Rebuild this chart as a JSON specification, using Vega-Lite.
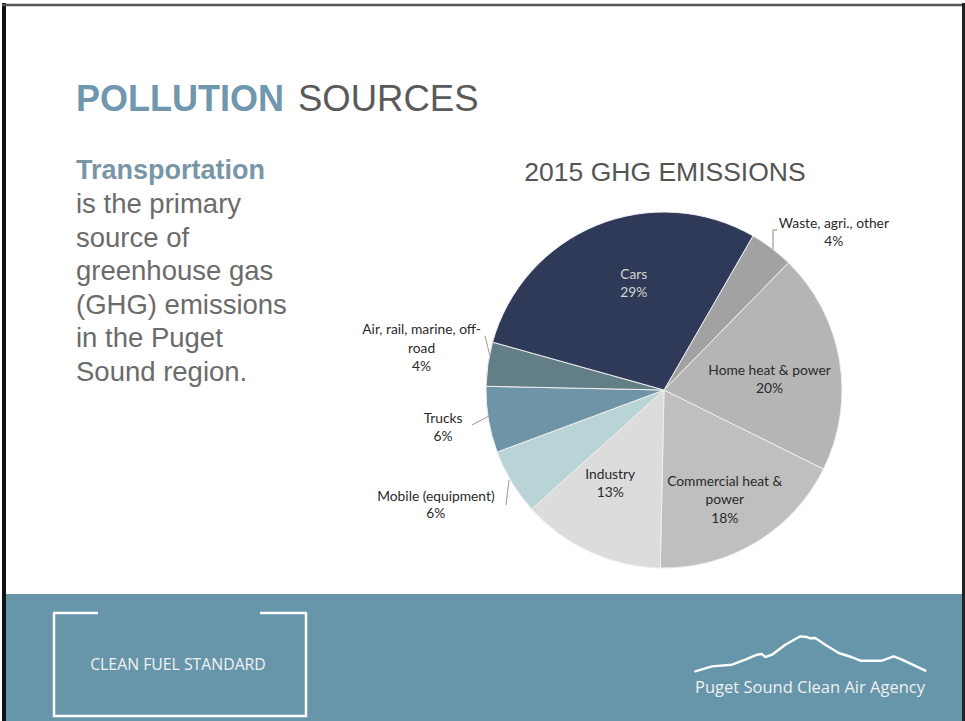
{
  "$schema": "https://vega.github.io/schema/vega-lite/v6.json",
  "width": 965,
  "height": 721,
  "autosize": {"type": "fit", "contains": "padding"},
  "padding": 0,
  "background": "white",
  "config": {"view": {"stroke": null}},
  "datasets": {
    "ghg": [
      {"name": "Waste, agri., other", "label": "Waste, agri., other\n4%", "value": 4, "order": 1},
      {"name": "Home heat & power", "label": "Home heat & power\n20%", "value": 20, "order": 2},
      {"name": "Commercial heat & power", "label": "Commercial heat &\npower\n18%", "value": 18, "order": 3},
      {"name": "Industry", "label": "Industry\n13%", "value": 13, "order": 4},
      {"name": "Mobile (equipment)", "label": "Mobile (equipment)\n6%", "value": 6, "order": 5},
      {"name": "Trucks", "label": "Trucks\n6%", "value": 6, "order": 6},
      {"name": "Air, rail, marine, off-road", "label": "Air, rail, marine, off-\nroad\n4%", "value": 4, "order": 7},
      {"name": "Cars", "label": "Cars\n29%", "value": 29, "order": 8}
    ]
  },
  "data": {"name": "ghg"},
  "layer": [
    {
      "data": {"values": [{}]},
      "mark": {"type": "rect", "color": "#6796ab"},
      "encoding": {"x": {"value": 0}, "x2": {"value": 965}, "y": {"value": 591}, "y2": {"value": 721}}
    },
    {
      "data": {"values": [{}]},
      "mark": {"type": "rule", "color": "#111111", "strokeWidth": 4},
      "encoding": {"x": {"value": 2}, "y": {"value": 0}, "y2": {"value": 721}}
    },
    {
      "data": {"values": [{}]},
      "mark": {"type": "rule", "color": "#555555", "strokeWidth": 2.5},
      "encoding": {"x": {"value": 0}, "x2": {"value": 965}, "y": {"value": 2}}
    },
    {
      "data": {"values": [{}]},
      "mark": {"type": "rule", "color": "#222222", "strokeWidth": 5},
      "encoding": {"x": {"value": 962.5}, "y": {"value": 0}, "y2": {"value": 721}}
    },
    {
      "data": {"values": [{}]},
      "mark": {"type": "text", "text": "POLLUTION", "font": "Liberation Sans", "fontSize": 36, "fontWeight": "bold", "color": "#6f97ae", "align": "left", "baseline": "alphabetic"},
      "encoding": {"x": {"value": 74}, "y": {"value": 108}}
    },
    {
      "data": {"values": [{}]},
      "mark": {"type": "text", "text": "SOURCES", "font": "Liberation Sans", "fontSize": 36.5, "color": "#5a5a5a", "align": "left", "baseline": "alphabetic"},
      "encoding": {"x": {"value": 296}, "y": {"value": 108}}
    },
    {
      "data": {"values": [{}]},
      "mark": {"type": "text", "text": "Transportation", "font": "Liberation Sans", "fontSize": 27, "fontWeight": "bold", "color": "#7896a8", "align": "left", "baseline": "alphabetic"},
      "encoding": {"x": {"value": 74}, "y": {"value": 176}}
    },
    {
      "data": {"values": [{}]},
      "mark": {"type": "text", "text": "is the primary\nsource of\ngreenhouse gas\n(GHG) emissions\nin the Puget\nSound region.", "lineBreak": "\n", "lineHeight": 33.6, "font": "Liberation Sans", "fontSize": 27.5, "color": "#6b6b6b", "align": "left", "baseline": "alphabetic"},
      "encoding": {"x": {"value": 74}, "y": {"value": 210}}
    },
    {
      "data": {"values": [{}]},
      "mark": {"type": "text", "text": "2015 GHG EMISSIONS", "font": "Liberation Sans", "fontSize": 26.5, "color": "#555555", "align": "center", "baseline": "alphabetic"},
      "encoding": {"x": {"value": 663}, "y": {"value": 178}}
    },
    {
      "layer": [
        {
          "mark": {"type": "arc", "outerRadius": 178, "stroke": "#eeeeee", "strokeWidth": 1},
          "encoding": {
            "color": {
              "field": "name", "type": "nominal", "legend": null,
              "scale": {
                "domain": ["Waste, agri., other", "Home heat & power", "Commercial heat & power", "Industry", "Mobile (equipment)", "Trucks", "Air, rail, marine, off-road", "Cars"],
                "range": ["#a2a2a2", "#b5b5b5", "#bfbfbf", "#dcdcdc", "#b8d4d6", "#6f94a7", "#627e87", "#2e3a57"]
              }
            }
          }
        },
        {
          "mark": {"type": "text", "radius": 109, "dx": 11, "dy": -14, "font": "Lato", "fontSize": 13.8, "lineBreak": "\n", "lineHeight": 18, "color": "#d5d5d5"},
          "encoding": {"text": {"condition": {"test": "datum.name === 'Cars'", "field": "label"}, "value": ""}}
        },
        {
          "mark": {"type": "text", "radius": 106, "dx": 1, "dy": -1, "font": "Lato", "fontSize": 13.8, "lineBreak": "\n", "lineHeight": 18, "color": "#2a2a2a"},
          "encoding": {"text": {"condition": {"test": "datum.name === 'Home heat & power'", "field": "label"}, "value": ""}}
        },
        {
          "mark": {"type": "text", "radius": 127, "dx": -5, "dy": -17, "font": "Lato", "fontSize": 13.8, "lineBreak": "\n", "lineHeight": 18.5, "color": "#2a2a2a"},
          "encoding": {"text": {"condition": {"test": "datum.name === 'Commercial heat & power'", "field": "label"}, "value": ""}}
        },
        {
          "mark": {"type": "text", "radius": 110, "dx": -8, "dy": -15, "font": "Lato", "fontSize": 13.8, "lineBreak": "\n", "lineHeight": 18, "color": "#2a2a2a"},
          "encoding": {"text": {"condition": {"test": "datum.name === 'Industry'", "field": "label"}, "value": ""}}
        },
        {
          "mark": {"type": "text", "radius": 228, "dx": 32, "dy": 16, "font": "Lato", "fontSize": 13.8, "lineBreak": "\n", "lineHeight": 18, "color": "#2a2a2a"},
          "encoding": {"text": {"condition": {"test": "datum.name === 'Waste, agri., other'", "field": "label"}, "value": ""}}
        },
        {
          "mark": {"type": "text", "radius": 244, "dx": -1, "dy": -24, "font": "Lato", "fontSize": 13.8, "lineBreak": "\n", "lineHeight": 18.5, "color": "#2a2a2a"},
          "encoding": {"text": {"condition": {"test": "datum.name === 'Air, rail, marine, off-road'", "field": "label"}, "value": ""}}
        },
        {
          "mark": {"type": "text", "radius": 223, "dx": -1, "dy": -8, "font": "Lato", "fontSize": 13.8, "lineBreak": "\n", "lineHeight": 18, "color": "#2a2a2a"},
          "encoding": {"text": {"condition": {"test": "datum.name === 'Trucks'", "field": "label"}, "value": ""}}
        },
        {
          "mark": {"type": "text", "radius": 255, "dx": -10, "dy": -25, "font": "Lato", "fontSize": 13.8, "lineBreak": "\n", "lineHeight": 17, "color": "#2a2a2a"},
          "encoding": {"text": {"condition": {"test": "datum.name === 'Mobile (equipment)'", "field": "label"}, "value": ""}}
        }
      ],
      "encoding": {
        "theta": {"field": "value", "type": "quantitative", "stack": true, "scale": {"range": [0.5236, 6.8068]}},
        "order": {"field": "order", "type": "quantitative"},
        "x": {"value": 662},
        "y": {"value": 387}
      }
    },
    {
      "data": {"values": [{}]},
      "mark": {"type": "rule", "color": "#888888", "strokeWidth": 1},
      "encoding": {"x": {"value": 771}, "y": {"value": 227}, "y2": {"value": 246}}
    },
    {
      "data": {"values": [{}]},
      "mark": {"type": "rule", "color": "#888888", "strokeWidth": 1},
      "encoding": {"x": {"value": 771}, "x2": {"value": 775}, "y": {"value": 227}}
    },
    {
      "data": {"values": [{}]},
      "mark": {"type": "rule", "color": "#999999", "strokeWidth": 1},
      "encoding": {"x": {"value": 483}, "x2": {"value": 488}, "y": {"value": 333}, "y2": {"value": 353}}
    },
    {
      "data": {"values": [{}]},
      "mark": {"type": "rule", "color": "#999999", "strokeWidth": 1},
      "encoding": {"x": {"value": 470}, "x2": {"value": 487}, "y": {"value": 422}, "y2": {"value": 413}}
    },
    {
      "data": {"values": [{}]},
      "mark": {"type": "rule", "color": "#999999", "strokeWidth": 1},
      "encoding": {"x": {"value": 504}, "x2": {"value": 507}, "y": {"value": 502}, "y2": {"value": 477}}
    },
    {
      "data": {"values": [{}]},
      "mark": {"type": "rule", "color": "white", "strokeWidth": 2.5},
      "encoding": {"x": {"value": 52}, "y": {"value": 610}, "y2": {"value": 714}}
    },
    {
      "data": {"values": [{}]},
      "mark": {"type": "rule", "color": "white", "strokeWidth": 2.5},
      "encoding": {"x": {"value": 304}, "y": {"value": 610}, "y2": {"value": 714}}
    },
    {
      "data": {"values": [{}]},
      "mark": {"type": "rule", "color": "white", "strokeWidth": 2.5},
      "encoding": {"x": {"value": 51}, "x2": {"value": 305}, "y": {"value": 713}}
    },
    {
      "data": {"values": [{}]},
      "mark": {"type": "rule", "color": "white", "strokeWidth": 2.5},
      "encoding": {"x": {"value": 51}, "x2": {"value": 96}, "y": {"value": 610}}
    },
    {
      "data": {"values": [{}]},
      "mark": {"type": "rule", "color": "white", "strokeWidth": 2.5},
      "encoding": {"x": {"value": 258}, "x2": {"value": 305}, "y": {"value": 610}}
    },
    {
      "data": {"values": [{}]},
      "mark": {"type": "text", "text": "CLEAN FUEL STANDARD", "font": "Open Sans", "fontSize": 15.8, "color": "#f2f2f2", "align": "center", "baseline": "middle"},
      "encoding": {"x": {"value": 176}, "y": {"value": 662}}
    },
    {
      "data": {"values": [{}]},
      "mark": {
        "type": "point",
        "shape": "M-1,0.152L-0.855,0.109L-0.681,0.095L-0.565,0.051L-0.463,0.008L-0.42,0.002L-0.391,0.028L-0.333,0.008L-0.217,-0.079L-0.087,-0.152L-0.029,-0.146L0,-0.135L0.043,-0.137L0.13,-0.079L0.247,-0.007L0.363,0.03L0.435,0.06L0.623,0.06L0.725,0.022L0.797,0.051L1,0.147",
        "filled": false, "stroke": "white", "strokeWidth": 2.4, "strokeJoin": "round", "strokeCap": "round", "opacity": 1, "size": 52900
      },
      "encoding": {"x": {"value": 808.3}, "y": {"value": 650.8}}
    },
    {
      "data": {"values": [{}]},
      "mark": {"type": "text", "text": "Puget Sound Clean Air Agency", "font": "Open Sans", "fontSize": 16.5, "color": "#f0f0f0", "align": "center", "baseline": "middle"},
      "encoding": {"x": {"value": 808}, "y": {"value": 685}}
    }
  ]
}
